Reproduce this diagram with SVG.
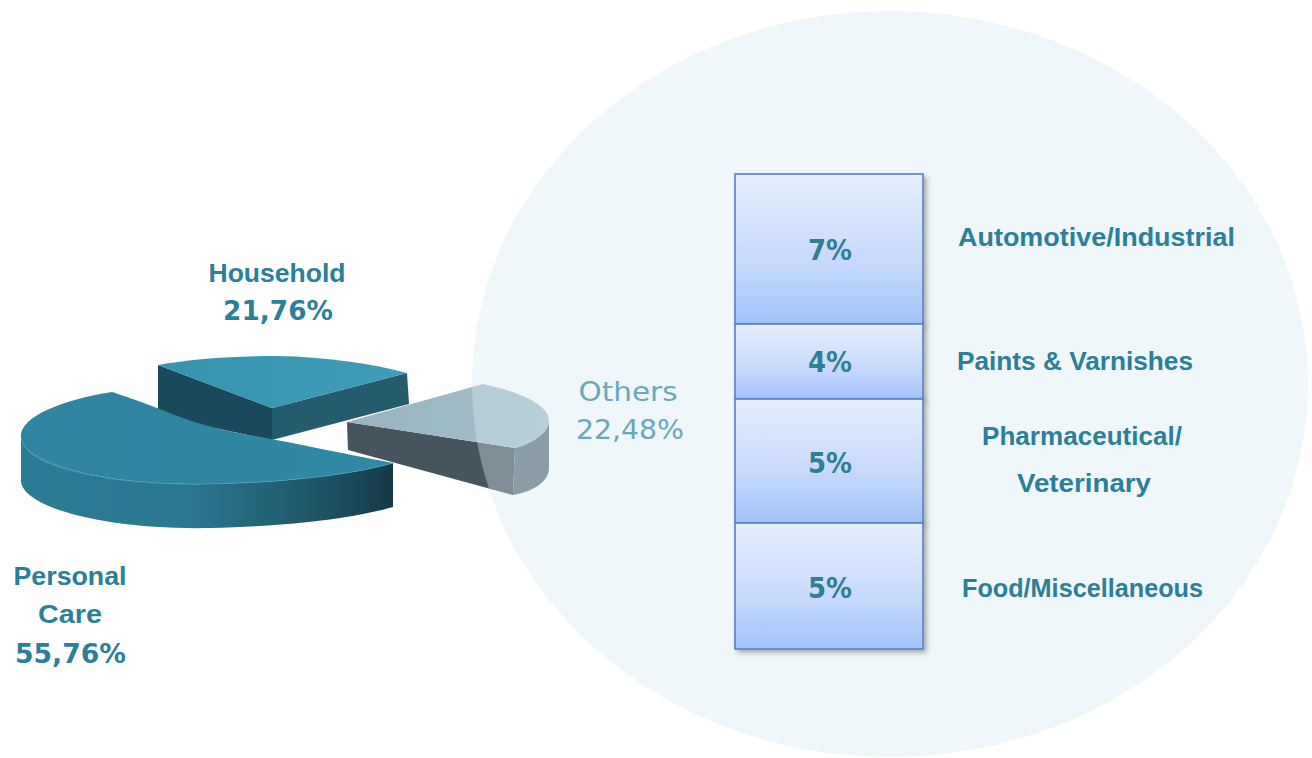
<svg xmlns="http://www.w3.org/2000/svg" width="1312" height="758" viewBox="0 0 1312 758">
  <defs>
    <linearGradient id="boxGrad" x1="0" y1="0" x2="0" y2="1">
      <stop offset="0" stop-color="#e5eefd"/>
      <stop offset="0.6" stop-color="#c6d9fc"/>
      <stop offset="1" stop-color="#a2c3f9"/>
    </linearGradient>
    <linearGradient id="pcSide" x1="21" y1="0" x2="393" y2="0" gradientUnits="userSpaceOnUse">
      <stop offset="0" stop-color="#2c7c95"/>
      <stop offset="0.45" stop-color="#2b7890"/>
      <stop offset="0.8" stop-color="#1f5566"/>
      <stop offset="1" stop-color="#153946"/>
    </linearGradient>
    <linearGradient id="pcTop" x1="0" y1="0" x2="1" y2="0">
      <stop offset="0" stop-color="#2f84a0"/>
      <stop offset="1" stop-color="#3189a3"/>
    </linearGradient>
    <linearGradient id="hhTop" x1="0" y1="0" x2="1" y2="0">
      <stop offset="0" stop-color="#3693ae"/>
      <stop offset="1" stop-color="#3f9db8"/>
    </linearGradient>
    <linearGradient id="otTop" x1="0" y1="0" x2="1" y2="0">
      <stop offset="0" stop-color="#97b3bf"/>
      <stop offset="1" stop-color="#a5c0cb"/>
    </linearGradient>
    <filter id="shadow" x="-10%" y="-10%" width="130%" height="130%">
      <feDropShadow dx="3" dy="3" stdDeviation="2.5" flood-color="#000000" flood-opacity="0.3"/>
    </filter>
  </defs>
  <style>
    .lbl { font-family: "Liberation Sans", Arial, sans-serif; font-weight: bold; font-size: 26.5px; fill: #2c7f98; }
    .num { font-family: "DejaVu Sans", sans-serif; font-weight: bold; font-size: 26px; fill: #2c7f98; }
    .pct { font-family: "DejaVu Sans", sans-serif; font-weight: bold; font-size: 28px; fill: #2e7f97; text-anchor: middle; }
    .oth { font-family: "DejaVu Sans", sans-serif; font-size: 26px; fill: #6aa8ba; text-anchor: middle; }
    .mid { text-anchor: middle; }
    .box { fill: url(#boxGrad); stroke: #5483c3; stroke-width: 1.6; }
  </style>

  <rect x="0" y="0" width="1312" height="758" fill="#ffffff"/>

  <!-- Pie: Household (back) -->
  <g id="pie-household">
    <path d="M158,365 L272,408 L272,440 L158,416 Z" fill="#1b4959"/>
    <path d="M272,408 L407,373 L409,404 L272,440 Z" fill="#245c6e"/>
    <path d="M158,365 C190,359 235,356 277,356 C325,357 370,363 407,373 L272,408 Z" fill="url(#hhTop)"/>
  </g>

  <!-- Pie: Personal Care -->
  <g id="pie-personal-care">
    <path d="M21,438 C25,465 110,486 210,484 C290,482 350,475 393,463 L393,507 C350,519 290,526 210,528 C110,530 25,509 21,482 Z" fill="url(#pcSide)"/>
    <path d="M393,463 C340,453 290,442 260,437 C230,432 200,425 175,415 C150,405 125,396 112,392 C60,400 18,418 21,438 C25,465 110,486 210,484 C290,482 350,475 393,463 Z" fill="url(#pcTop)"/>
    <path d="M24,446 C40,470 120,486 210,484 C290,482 350,475 393,463" fill="none" stroke="#4a9fb7" stroke-width="1.2" opacity="0.7"/>
  </g>

  <!-- Pie: Others -->
  <g id="pie-others">
    <path d="M347,422 L515,448 L513,495 L348,450 Z" fill="#46555d"/>
    <path d="M549,420 C549,434 530,444 515,448 L513,495 C532,492 549,482 549,468 Z" fill="#5c6c75"/>
    <path d="M347,422 L483,384 C520,392 549,405 549,421 C549,434 530,444 515,448 Z" fill="url(#otTop)"/>
  </g>

  <!-- Zoom circle (translucent) -->
  <g id="zoom-circle">
    <ellipse cx="890" cy="384" rx="418" ry="373" fill="#d5eaf2" fill-opacity="0.385"/>
  </g>

  <g id="connectors"/>

  <!-- Stacked bar -->
  <g id="bar-automotive">
    <rect class="box" x="735" y="174" width="188" height="150" filter="url(#shadow)"/>
    <text class="pct" x="830" y="260" textLength="44" lengthAdjust="spacingAndGlyphs">7%</text>
  </g>
  <g id="bar-paints">
    <rect class="box" x="735" y="324" width="188" height="75" filter="url(#shadow)"/>
    <text class="pct" x="830" y="372" textLength="44" lengthAdjust="spacingAndGlyphs">4%</text>
  </g>
  <g id="bar-pharma">
    <rect class="box" x="735" y="399" width="188" height="124" filter="url(#shadow)"/>
    <text class="pct" x="830" y="473" textLength="44" lengthAdjust="spacingAndGlyphs">5%</text>
  </g>
  <g id="bar-food">
    <rect class="box" x="735" y="523" width="188" height="126" filter="url(#shadow)"/>
    <text class="pct" x="830" y="598" textLength="44" lengthAdjust="spacingAndGlyphs">5%</text>
  </g>

  <!-- Pie labels -->
  <g id="label-household">
    <text class="lbl mid" x="277" y="282" textLength="137" lengthAdjust="spacingAndGlyphs">Household</text>
    <text class="num mid" x="278" y="320" textLength="110" lengthAdjust="spacingAndGlyphs">21,76%</text>
  </g>
  <g id="label-personal-care">
    <text class="lbl mid" x="70" y="585" textLength="113" lengthAdjust="spacingAndGlyphs">Personal</text>
    <text class="lbl mid" x="70" y="623" textLength="64" lengthAdjust="spacingAndGlyphs">Care</text>
    <text class="num mid" x="70.5" y="663" textLength="111" lengthAdjust="spacingAndGlyphs">55,76%</text>
  </g>
  <g id="label-others">
    <text class="oth" x="628" y="401" textLength="99" lengthAdjust="spacingAndGlyphs">Others</text>
    <text class="oth" x="630" y="439" textLength="108" lengthAdjust="spacingAndGlyphs">22,48%</text>
  </g>

  <!-- Category labels -->
  <g id="label-automotive">
    <text class="lbl" x="958" y="246" textLength="277" lengthAdjust="spacingAndGlyphs">Automotive/Industrial</text>
  </g>
  <g id="label-paints">
    <text class="lbl" x="957" y="370" textLength="236" lengthAdjust="spacingAndGlyphs">Paints &amp; Varnishes</text>
  </g>
  <g id="label-pharma">
    <text class="lbl" x="982" y="445" textLength="200" lengthAdjust="spacingAndGlyphs">Pharmaceutical/</text>
    <text class="lbl" x="1017" y="492" textLength="134" lengthAdjust="spacingAndGlyphs">Veterinary</text>
  </g>
  <g id="label-food">
    <text class="lbl" x="962" y="597" textLength="241" lengthAdjust="spacingAndGlyphs">Food/Miscellaneous</text>
  </g>
</svg>
